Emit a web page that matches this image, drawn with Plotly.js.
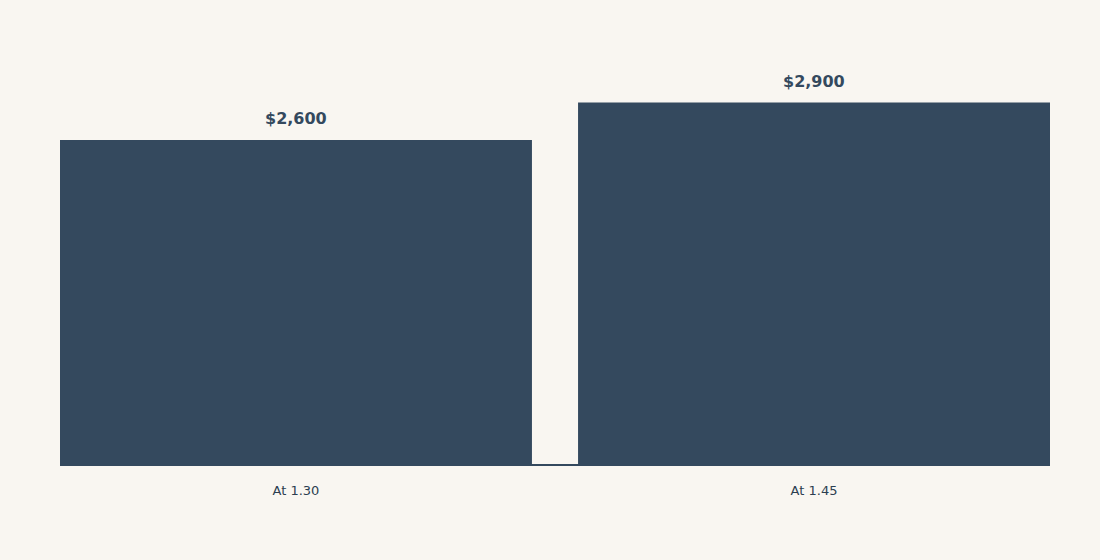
<!DOCTYPE html>
<html>
<head>
<meta charset="utf-8">
<script src="https://cdn.plot.ly/plotly-3.0.1.min.js"></script>
<style>
  body { margin: 0; background: #f9f6f1; }
  #chart { width: 1100px; height: 560px; }
</style>
</head>
<body>
<div id="chart"></div>
<script>
// chart data
const categories = ['At 1.30', 'At 1.45'];
const amounts = [2600, 2900];
const amountLabels = ['$2,600', '$2,900'];

const barColor = '#34495e';
const bgColor = '#f9f6f1';
const barWidth = 0.911; // share of a category slot

const trace = {
  type: 'bar',
  x: [0, 1],
  y: amounts,
  width: barWidth,
  marker: {color: barColor},
  hoverinfo: 'skip'
};

// value labels sit a little above each bar
const labels = amounts.map((v, i) => ({
  x: i,
  y: v,
  text: amountLabels[i],
  showarrow: false,
  yanchor: 'bottom',
  yshift: 10,
  font: {family: 'DejaVu Sans', size: 16, color: barColor, weight: 'bold'}
}));

const layout = {
  width: 1100,
  height: 560,
  paper_bgcolor: bgColor,
  plot_bgcolor: bgColor,
  margin: {l: 60, r: 50, t: 40, b: 95},
  showlegend: false,
  font: {family: 'DejaVu Sans', color: barColor},
  annotations: labels,
  xaxis: {
    range: [-barWidth / 2, 1 + barWidth / 2],
    tickvals: [0, 1],
    ticktext: categories,
    showgrid: false,
    showline: false,
    zeroline: false,
    ticks: 'outside',
    ticklen: 13,
    tickcolor: 'rgba(0,0,0,0)',
    tickfont: {size: 13, color: '#2c3e50'}
  },
  yaxis: {
    range: [0, 3400],
    showgrid: false,
    showticklabels: false,
    zeroline: true,
    zerolinecolor: barColor,
    zerolinewidth: 2
  }
};

Plotly.newPlot('chart', [trace], layout, {displayModeBar: false, staticPlot: true});
</script>
</body>
</html>
